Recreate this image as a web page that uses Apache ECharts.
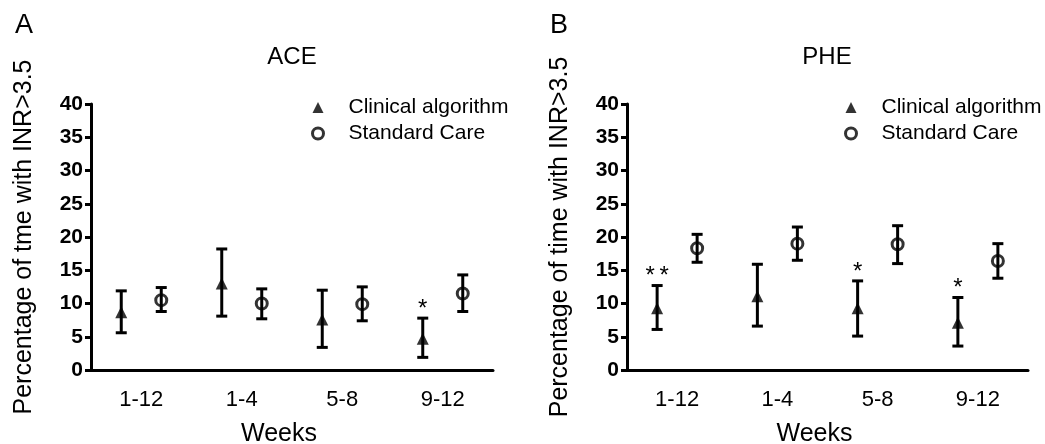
<!DOCTYPE html>
<html>
<head>
<meta charset="utf-8">
<script src="https://cdn.jsdelivr.net/npm/echarts@6/dist/echarts.min.js"></script>
<style>html,body{margin:0;padding:0;background:#fff}#c{width:1045px;height:444px}</style>
</head>
<body>
<div id="c"></div>
<script>
// ---- data ----
const categories = ['1-12', '1-4', '5-8', '9-12'];
const yTicks = [0, 5, 10, 15, 20, 25, 30, 35, 40];

const aceClinMean = [8.7, 13.0, 7.6, 4.7];
const aceClinLow  = [5.6, 8.1, 3.4, 1.9];
const aceClinHigh = [11.9, 18.2, 12.0, 7.8];
const aceStdMean  = [10.5, 10.0, 9.9, 11.5];
const aceStdLow   = [8.8, 7.7, 7.4, 8.8];
const aceStdHigh  = [12.4, 12.2, 12.5, 14.3];
const aceSig      = ['', '', '', '*'];

const pheClinMean = [9.3, 11.1, 9.3, 7.1];
const pheClinLow  = [6.1, 6.6, 5.1, 3.6];
const pheClinHigh = [12.7, 15.9, 13.4, 10.9];
const pheStdMean  = [18.3, 19.0, 18.9, 16.4];
const pheStdLow   = [16.2, 16.5, 16.0, 13.8];
const pheStdHigh  = [20.4, 21.5, 21.7, 19.0];
const pheSig      = ['**', '', '*', '*'];

const yNameA = 'Percentage of tme with INR>3.5';
const yNameB = 'Percentage of time with INR>3.5';

// ---- styling ----
const FONT = 'Liberation Sans, Arial, sans-serif';
const DODGE = 20;
const LW = 3;
const CAP = 11;

const chart = echarts.init(document.getElementById('c'), null, {renderer: 'canvas'});

function errSeries(gi, low, high, sig, dx) {
  return {
    type: 'custom',
    xAxisIndex: gi, yAxisIndex: gi,
    z: 2,
    silent: true,
    data: categories.map((c, i) => [i, low[i], high[i]]),
    encode: {x: 0, y: [1, 2]},
    renderItem: function (params, api) {
      const i = api.value(0);
      const lo = api.coord([i, api.value(1)]);
      const hi = api.coord([i, api.value(2)]);
      const x = lo[0] + dx;
      const st = {stroke: '#000', lineWidth: LW, fill: null};
      const children = [
        {type: 'line', shape: {x1: x, y1: hi[1], x2: x, y2: lo[1]}, style: st},
        {type: 'line', shape: {x1: x - CAP / 2, y1: hi[1], x2: x + CAP / 2, y2: hi[1]}, style: st},
        {type: 'line', shape: {x1: x - CAP / 2, y1: lo[1], x2: x + CAP / 2, y2: lo[1]}, style: st}
      ];
      const s = sig ? sig[params.dataIndex] : '';
      if (s) {
        const t = s.split('').join('\u2009');
        children.push({type: 'text', x: x, y: hi[1] - 9,
          style: {text: t, align: 'center', verticalAlign: 'middle',
                  fontSize: 24, fontFamily: FONT, fill: '#000'}});
      }
      return {type: 'group', children: children};
    }
  };
}

function markerSeries(gi, name, values) {
  const tri = name === 'Clinical algorithm';
  return {
    type: 'scatter', name: name,
    xAxisIndex: gi, yAxisIndex: gi, z: 3,
    data: values,
    symbol: tri ? 'triangle' : 'circle',
    symbolSize: tri ? [12, 12] : 11,
    symbolOffset: [tri ? -DODGE : DODGE, 0],
    itemStyle: tri ? {color: '#000'} : {color: 'rgba(0,0,0,0)', borderColor: '#000', borderWidth: LW}
  };
}

function xAxis(gi) {
  return {
    gridIndex: gi, type: 'category', data: categories, boundaryGap: true,
    axisLine: {lineStyle: {color: '#000', width: LW}},
    axisTick: {alignWithLabel: true, length: 7, lineStyle: {color: '#000', width: LW}},
    axisLabel: {fontSize: 22, color: '#000', margin: 19, fontFamily: FONT},
    splitLine: {show: false},
    name: 'Weeks', nameLocation: 'middle', nameGap: 52,
    nameTextStyle: {fontSize: 25, color: '#000', fontFamily: FONT, padding: [0, 26, 0, 0]}
  };
}
function yAxis(gi, name) {
  return {
    gridIndex: gi, type: 'value', min: yTicks[0], max: yTicks[yTicks.length - 1],
    interval: yTicks[1] - yTicks[0],
    axisLine: {show: true, lineStyle: {color: '#000', width: LW}},
    axisTick: {show: true, length: 6, lineStyle: {color: '#000', width: LW}},
    axisLabel: {fontSize: 21, fontWeight: 'bold', color: '#000', margin: 8, fontFamily: FONT},
    splitLine: {show: false},
    name: name, nameLocation: 'middle', nameGap: 54,
    nameTextStyle: {fontSize: 25, color: '#000', fontFamily: FONT}
  };
}
function legend(left) {
  return {
    left: left, top: 92, orient: 'vertical', itemWidth: 11, itemHeight: 11, itemGap: 5,
    selectedMode: false,
    textStyle: {fontSize: 21, color: '#000', fontFamily: FONT, padding: [0, 0, 0, 20]},
    data: [
      {name: 'Clinical algorithm', icon: 'triangle', itemStyle: {color: '#000'}},
      {name: 'Standard Care', icon: 'circle',
       itemStyle: {color: 'rgba(0,0,0,0)', borderColor: '#000', borderWidth: LW}}
    ]
  };
}

function txt(t, x, y, size, align) {
  return {type: 'text', x: x, y: y,
    style: {text: t, fontSize: size, fontFamily: FONT, fill: '#000', align: align, verticalAlign: 'middle'}};
}

chart.setOption({
  animation: false,
  backgroundColor: '#fff',
  grid: [
    {left: 91, top: 104, width: 402, height: 266, containLabel: false, outerBoundsMode: 'none'},
    {left: 627, top: 104, width: 401, height: 266, containLabel: false, outerBoundsMode: 'none'}
  ],
  xAxis: [xAxis(0), xAxis(1)],
  yAxis: [yAxis(0, yNameA), yAxis(1, yNameB)],
  legend: [legend(306), legend(839)],
  graphic: [
    txt('A', 15, 26, 27, 'left'),
    txt('B', 550, 26, 27, 'left'),
    txt('ACE', 292, 57, 24, 'center'),
    txt('PHE', 827, 57, 24, 'center')
  ],
  series: [
    errSeries(0, aceClinLow, aceClinHigh, aceSig, -DODGE),
    errSeries(0, aceStdLow, aceStdHigh, null, DODGE),
    markerSeries(0, 'Clinical algorithm', aceClinMean),
    markerSeries(0, 'Standard Care', aceStdMean),
    errSeries(1, pheClinLow, pheClinHigh, pheSig, -DODGE),
    errSeries(1, pheStdLow, pheStdHigh, null, DODGE),
    markerSeries(1, 'Clinical algorithm', pheClinMean),
    markerSeries(1, 'Standard Care', pheStdMean)
  ]
});
</script>
</body>
</html>
